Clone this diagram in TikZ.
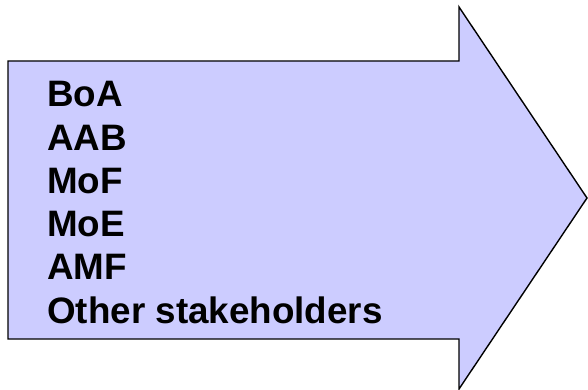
\documentclass[tikz,border=0pt]{standalone}
\usepackage{fontspec}
\setmainfont{Liberation Sans}
\usepackage{xcolor}
\usepackage{tikz}
\usetikzlibrary{calc,positioning}
\definecolor{lavender}{HTML}{CCCCFF}

\begin{document}
\begin{tikzpicture}[
    x=1pt, y=-1pt,
    bigarrow/.style={draw=black, fill=lavender, line width=1.4pt, line join=miter},
    item/.style={anchor=base west, inner sep=0pt, font=\fontsize{36.8}{44}\selectfont\bfseries, text=black}
]
    \useasboundingbox (0,0) rectangle (588,390);

    % Arrow shape
    \draw[bigarrow] (8,61) -- (459,61) -- (459,7) -- (587,198) -- (459,389) -- (459,339) -- (8,339) -- cycle;

    % Items
    \foreach \txt [count=\i] in {BoA, AAB, MoF, MoE, AMF, Other stakeholders} {
        \node[item] (l\i) at (47, {107+43.2*(\i-1)}) {\txt};
    }
\end{tikzpicture}
\end{document}
